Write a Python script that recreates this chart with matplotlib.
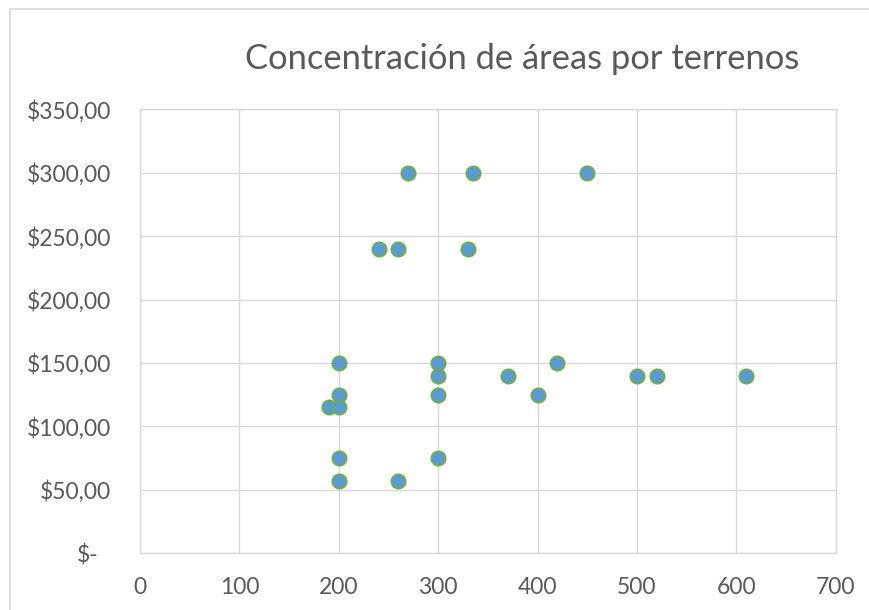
import matplotlib
matplotlib.use("Agg")
import matplotlib.pyplot as plt
from matplotlib import transforms
from matplotlib.patches import Rectangle

# Terrain area (x) vs. price (y)
area = [270, 335, 450, 240, 260, 330, 200, 300, 420, 300, 370, 500, 520, 610,
        200, 300, 400, 190, 200, 200, 300, 200, 260]
precio = [300, 300, 300, 240, 240, 240, 150, 150, 150, 140, 140, 140, 140, 140,
          125, 125, 125, 115, 115, 75, 75, 57, 57]

x_ticks = [0, 100, 200, 300, 400, 500, 600, 700]
y_ticks = [0, 50, 100, 150, 200, 250, 300, 350]
y_tick_labels = ["$-", "$50,00", "$100,00", "$150,00", "$200,00",
                 "$250,00", "$300,00", "$350,00"]
titulo = "Concentración de áreas por terrenos"

W, H = 870, 610
plt.rcParams["font.family"] = ["Lato", "DejaVu Sans"]
fig = plt.figure(figsize=(W / 100, H / 100), dpi=100)

# outer chart frame
fig.patches.append(Rectangle((10 / W, -0.1), 1.2, 1 - 9 / H + 0.1,
                             transform=fig.transFigure, fill=False,
                             edgecolor="#d9d9d9", linewidth=1.2))

left, right, top, bottom = 140, 835.7, 109.3, 553.3
ax = fig.add_axes([left / W, 1 - bottom / H, (right - left) / W, (bottom - top) / H])

grid_c = "#d9d9d9"
text_c = "#595959"

ax.scatter(area, precio, s=105, facecolor="#5b9bd5", edgecolor="#70ad47",
           linewidth=1.3, zorder=3)

ax.set_xlim(0, 700)
ax.set_ylim(0, 350)
ax.set_xticks(x_ticks)
ax.set_yticks(y_ticks)
ax.set_yticklabels(y_tick_labels)
ax.grid(True, color=grid_c, linewidth=1.0)
ax.set_axisbelow(True)
for s in ax.spines.values():
    s.set_color(grid_c)
    s.set_linewidth(1.0)

ax.tick_params(axis="both", length=0, labelsize=16.5, colors=text_c)
ax.tick_params(axis="x", pad=17)
ax.tick_params(axis="y", pad=21)

# accounting-style zero label sits further left
zero_lbl = ax.get_yticklabels()[0]
zero_lbl.set_transform(zero_lbl.get_transform() +
                       transforms.ScaledTranslation(-0.12, 0, fig.dpi_scale_trans))

fig.text(522 / W, 1 - 59 / H, titulo, ha="center", va="center",
         fontsize=24.8, color=text_c)

fig.savefig("out.png", dpi=100, facecolor="white")
